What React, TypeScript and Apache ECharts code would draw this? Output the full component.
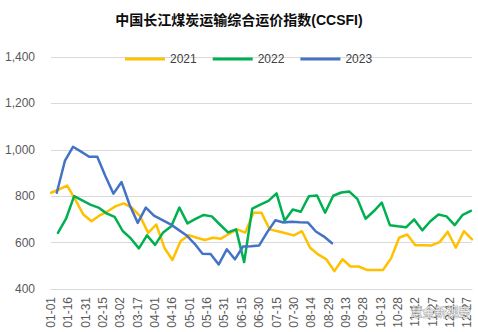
import React, { useEffect, useRef } from "react";
import * as echarts from "echarts";

const titleText = "中国长江煤炭运输综合运价指数(CCSFI)";
const seriesNames = ["2021", "2022", "2023"];
const seriesColors = ["#FFC000", "#00B050", "#4472C4"];

const monthDays = [31, 28, 31, 30, 31, 30, 31, 31, 30, 31, 30, 31];
const categories: string[] = [];
monthDays.forEach((n, m) => {
  for (let d = 1; d <= n; d++) {
    categories.push(String(m + 1).padStart(2, "0") + "-" + String(d).padStart(2, "0"));
  }
});

const yTicks = [400, 600, 800, 1000, 1200, 1400];

const dates2021 = [
  "01-01", "01-08", "01-15", "01-22", "01-29", "02-05", "02-12", "02-19", "02-26", "03-05",
  "03-12", "03-19", "03-26", "04-02", "04-09", "04-16", "04-23", "04-30", "05-07", "05-14",
  "05-21", "05-28", "06-04", "06-11", "06-18", "06-25", "07-02", "07-09", "07-16", "07-23",
  "07-30", "08-06", "08-13", "08-20", "08-27", "09-03", "09-10", "09-17", "09-24", "10-01",
  "10-08", "10-15", "10-22", "10-29", "11-05", "11-12", "11-19", "11-26", "12-03", "12-10",
  "12-17", "12-24", "12-31",
];
const values2021 = [
  815, 829, 846, 785, 721, 692, 717, 735, 757, 769,
  750, 714, 642, 678, 578, 525, 606, 632, 621, 611,
  621, 617, 638, 657, 643, 729, 729, 657, 649, 640,
  631, 649, 578, 549, 528, 477, 528, 497, 497, 482,
  482, 482, 532, 621, 635, 589, 589, 588, 602, 647,
  578, 649, 614,
];

const dates2022 = [
  "01-07", "01-14", "01-21", "01-28", "02-04", "02-11", "02-18", "02-25", "03-04", "03-11",
  "03-18", "03-25", "04-01", "04-08", "04-15", "04-22", "04-29", "05-06", "05-13", "05-20",
  "05-27", "06-03", "06-10", "06-17", "06-24", "07-01", "07-08", "07-15", "07-22", "07-29",
  "08-05", "08-12", "08-19", "08-26", "09-02", "09-09", "09-16", "09-23", "09-30", "10-07",
  "10-14", "10-21", "10-28", "11-04", "11-11", "11-18", "11-25", "12-02", "12-09", "12-16",
  "12-23", "12-30",
];
const values2022 = [
  642, 703, 800, 782, 764, 751, 726, 711, 650, 618,
  575, 631, 590, 644, 670, 751, 683, 702, 719, 713,
  678, 644, 657, 516, 746, 764, 780, 812, 694, 743,
  733, 800, 803, 729, 802, 816, 820, 787, 703, 735,
  772, 675, 670, 666, 700, 653, 692, 721, 713, 675,
  720, 737,
];

const dates2023 = [
  "01-06", "01-13", "01-20", "01-27", "02-03", "02-10", "02-17", "02-24", "03-03", "03-10",
  "03-17", "03-24", "03-31", "04-07", "04-14", "04-21", "04-28", "05-05", "05-12", "05-19",
  "05-26", "06-02", "06-09", "06-16", "06-23", "06-30", "07-07", "07-14", "07-21", "07-28",
  "08-04", "08-11", "08-18", "08-25", "09-01",
];
const values2023 = [
  815, 952, 1013, 992, 970, 970, 887, 811, 861, 762,
  685, 751, 716, 698, 680, 656, 632, 596, 552, 551,
  506, 571, 528, 583, 584, 588, 645, 696, 687, 690,
  688, 687, 648, 626, 597,
];

const watermarkText = "慧金新视野";

const allDates = [dates2021, dates2022, dates2023];
const allValues = [values2021, values2022, values2023];

const FONT = '"Liberation Sans", Arial, "Noto Sans CJK SC", sans-serif';

export default function App() {
  const ref = useRef<HTMLDivElement>(null);
  useEffect(() => {
    if (!ref.current) return;
    const chart = echarts.init(ref.current, undefined, { renderer: "svg" });
    const series = seriesNames.map((name, i) => ({
      name,
      type: "line",
      data: allDates[i].map((d, j) => [categories.indexOf(d), allValues[i][j]]),
      showSymbol: false,
      symbol: "none",
      lineStyle: { color: seriesColors[i], width: 2.5, join: "round", cap: "round" },
      itemStyle: { color: seriesColors[i] },
      z: 2 + i,
    }));
    chart.setOption({
      animation: false,
      backgroundColor: "#ffffff",
      textStyle: { fontFamily: FONT },
      title: {
        text: titleText,
        left: "center",
        top: 13,
        padding: 0,
        textStyle: { fontSize: 14, fontWeight: "bold", color: "#0d0d0d", fontFamily: FONT },
      },
      legend: {
        data: seriesNames,
        left: 120,
        top: 48,
        icon: "rect",
        itemWidth: 40,
        itemHeight: 3,
        itemGap: 16,
        textStyle: { fontSize: 12, color: "#404040", fontFamily: FONT },
      },
      grid: { left: 51, right: 6, top: 57, bottom: 43, containLabel: false },
      xAxis: {
        type: "category",
        data: categories,
        boundaryGap: false,
        axisLine: { show: true, lineStyle: { color: "#d9d9d9", width: 1 } },
        axisTick: { show: false },
        splitLine: { show: false },
        axisLabel: {
          interval: 14,
          rotate: 90,
          fontSize: 12,
          color: "#595959",
          margin: 8,
          fontFamily: FONT,
        },
      },
      yAxis: {
        type: "value",
        min: yTicks[0],
        max: yTicks[yTicks.length - 1],
        interval: 200,
        axisLine: { show: false },
        axisTick: { show: false },
        splitLine: { show: true, lineStyle: { color: "#d9d9d9", width: 1 } },
        axisLabel: {
          fontSize: 12,
          color: "#595959",
          margin: 16,
          fontFamily: FONT,
          formatter: (v: number) => v.toLocaleString("en-US"),
        },
      },
      series,
      graphic: [
        {
          type: "text",
          left: 410,
          top: 306,
          z: 100,
          style: {
            text: watermarkText,
            fontSize: 12,
            fontFamily: FONT,
            fill: "rgba(255,255,255,0.85)",
            stroke: "rgba(120,120,120,0.7)",
            lineWidth: 1,
          },
        },
      ],
    });
    return () => chart.dispose();
  }, []);
  return <div ref={ref} style={{ width: 478, height: 332, position: "absolute", left: 0, top: 0 }} />;
}
